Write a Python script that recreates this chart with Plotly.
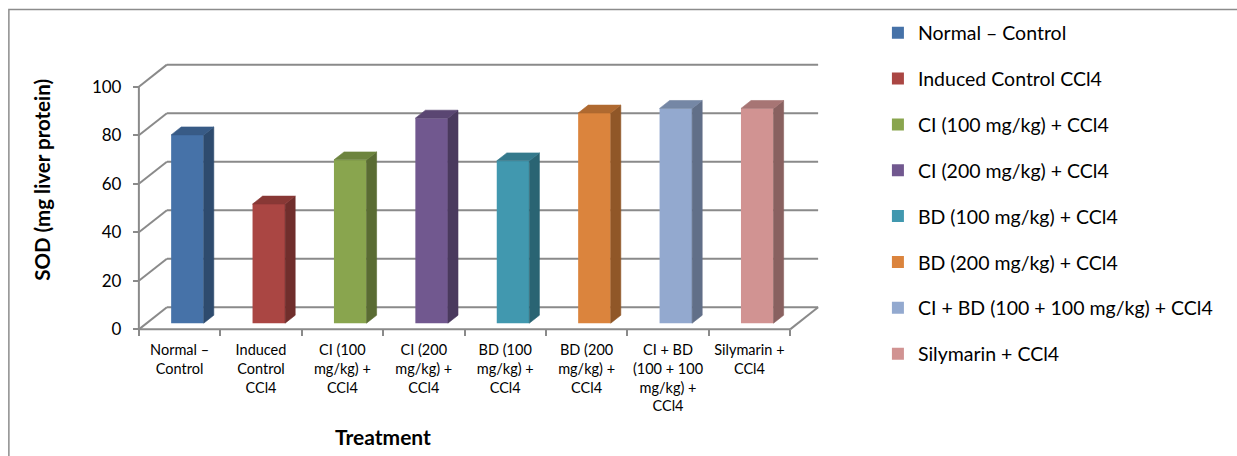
import plotly.graph_objects as go

# ---- data -------------------------------------------------------------
treatments = [
    "Normal – Control",
    "Induced Control CCl4",
    "CI (100 mg/kg) + CCl4",
    "CI (200 mg/kg) + CCl4",
    "BD (100 mg/kg) + CCl4",
    "BD (200 mg/kg) + CCl4",
    "CI + BD (100 + 100 mg/kg) + CCl4",
    "Silymarin + CCl4",
]
axis_labels = [
    "Normal –<br>Control",
    "Induced<br>Control<br>CCl4",
    "CI (100<br>mg/kg) +<br>CCl4",
    "CI (200<br>mg/kg) +<br>CCl4",
    "BD (100<br>mg/kg) +<br>CCl4",
    "BD (200<br>mg/kg) +<br>CCl4",
    "CI + BD<br>(100 + 100<br>mg/kg) +<br>CCl4",
    "Silymarin +<br>CCl4",
]
sod = [77.6, 49.1, 67.3, 84.5, 66.9, 86.6, 88.5, 88.5]
y_ticks = [0, 20, 40, 60, 80, 100]

front_colors = ["#4672A8", "#AA4643", "#89A54E", "#71588F",
                "#4198AF", "#DB843D", "#93A9CF", "#D19392"]

# ---- geometry of the pseudo-3D frame -----------------------------------
W, H = 1237, 456
PX0, PXC = 139.0, 81.4        # pixel of front-left corner, pixels per category
PY0, PYU = 329.0, 2.42        # pixel of front zero line, pixels per unit
DX = 28.0 / PXC               # depth offset (x, in category units)
DY = 22.0 / PYU               # depth offset (y, in value units)
BAR_W = 0.40                  # bar width in category units
T0, DEPTH = 0.28, 0.36        # bar position/depth as fractions of the floor depth
N = len(sod)

XMIN, XMAX = -0.06, N + DX + 0.06
YMIN, YMAX = -1.5, 100 + DY + 1.5

ml = PX0 + XMIN * PXC
pw = (XMAX - XMIN) * PXC
mr = W - ml - pw
bottom_px = PY0 - YMIN * PYU
ph = (YMAX - YMIN) * PYU
mb = H - bottom_px
mt = bottom_px - ph


def shade(hex_color, k):
    h = hex_color.lstrip("#")
    r, g, b = (int(h[i:i + 2], 16) for i in (0, 2, 4))
    return "#{:02X}{:02X}{:02X}".format(int(r * k), int(g * k), int(b * k))


def px_to_paper(px, py):
    return (px - ml) / pw, (bottom_px - py) / ph


GRID = "#8A8A8A"
FONT = "Lato"

fig = go.Figure()

# bars: front face as a Bar trace, side and top faces as filled polygons
for i, (name, v, col) in enumerate(zip(treatments, sod, front_colors)):
    cx = i + 0.5 + T0 * DX
    base = T0 * DY
    xl, xr = cx - BAR_W / 2, cx + BAR_W / 2
    ddx, ddy = DEPTH * DX, DEPTH * DY
    top = base + v
    side_col = shade(col, 0.66)
    top_col = shade(col, 0.80)
    fig.add_trace(go.Scatter(
        x=[xr, xr + ddx, xr + ddx, xr, xr],
        y=[base, base + ddy, top + ddy, top, base],
        fill="toself", fillcolor=side_col, mode="lines",
        line=dict(color=side_col, width=0.6),
        showlegend=False, hoverinfo="skip"))
    fig.add_trace(go.Scatter(
        x=[xl, xr, xr + ddx, xl + ddx, xl],
        y=[top, top, top + ddy, top + ddy, top],
        fill="toself", fillcolor=top_col, mode="lines",
        line=dict(color=top_col, width=0.6),
        showlegend=False, hoverinfo="skip"))
    fig.add_trace(go.Bar(
        x=[cx], y=[v], base=[base], width=[BAR_W],
        marker=dict(color=col, line=dict(width=0)),
        name=name, legendgroup=str(i), hoverinfo="skip"))

# invisible trace so the boundary-tick axis gets drawn
fig.add_trace(go.Scatter(x=[0], y=[0], xaxis="x2", mode="markers",
                         marker=dict(opacity=0), showlegend=False,
                         hoverinfo="skip"))

# walls, floor and gridlines
shapes = []
line = dict(color=GRID, width=2)
for v in y_ticks:
    shapes.append(dict(type="line", xref="x", yref="y", x0=DX, y0=v + DY,
                       x1=N + DX, y1=v + DY, line=line, layer="below"))
    shapes.append(dict(type="line", xref="x", yref="y", x0=0, y0=v,
                       x1=DX, y1=v + DY, line=line, layer="below"))
shapes.append(dict(type="line", xref="x", yref="y", x0=0, y0=0, x1=0,
                   y1=y_ticks[-1], line=line, layer="below"))
shapes.append(dict(type="line", xref="x", yref="y", x0=0, y0=0, x1=N,
                   y1=0, line=line, layer="below"))
shapes.append(dict(type="line", xref="x", yref="y", x0=N, y0=0, x1=N + DX,
                   y1=DY, line=line, layer="below"))

# outer chart border (left and top edges)
bx0, by0 = px_to_paper(9, 10)
bx1, by1 = px_to_paper(W + 5, H + 5)
shapes.append(dict(type="rect", xref="paper", yref="paper",
                   x0=bx0, y0=by1, x1=bx1, y1=by0,
                   line=dict(color="#8C8C8C", width=1.5), layer="below"))

x_axis_pos = (0 - YMIN) / (YMAX - YMIN)
y_axis_pos = (0 - XMIN) / (XMAX - XMIN)

lx, ly = px_to_paper(878, 14)
ytx, yty = px_to_paper(42, 180)
xtx, xty = px_to_paper(383, 436)

fig.update_layout(
    width=W, height=H,
    margin=dict(l=ml, r=mr, t=mt, b=mb, autoexpand=False),
    paper_bgcolor="white", plot_bgcolor="rgba(0,0,0,0)",
    barmode="overlay",
    font=dict(family=FONT, color="black"),
    shapes=shapes,
    showlegend=True,
    legend=dict(x=lx, y=ly, xanchor="left", yanchor="top",
                font=dict(family=FONT, size=19.5, color="black"),
                tracegroupgap=17.5, bgcolor="rgba(0,0,0,0)",
                maxheight=440),
    xaxis=dict(range=[XMIN, XMAX], anchor="free", position=x_axis_pos,
               tickmode="array", tickvals=[i + 0.5 for i in range(N)],
               ticktext=axis_labels, ticks="", showgrid=False,
               zeroline=False, showline=False, ticklabelstandoff=10,
               tickfont=dict(family=FONT, size=14.5, color="black")),
    xaxis2=dict(range=[XMIN, XMAX], overlaying="x", anchor="free",
                position=x_axis_pos, side="bottom",
                tickmode="array", tickvals=list(range(N + 1)),
                ticks="outside", ticklen=6, tickwidth=2, tickcolor=GRID,
                showticklabels=False, showgrid=False, zeroline=False,
                showline=False),
    yaxis=dict(range=[YMIN, YMAX], anchor="free", position=y_axis_pos,
               tickmode="array", tickvals=y_ticks,
               ticks="outside", ticklen=6, tickwidth=2, tickcolor=GRID,
               showgrid=False, zeroline=False, showline=False,
               ticklabelstandoff=8,
               tickfont=dict(family=FONT, size=17, color="black")),
    annotations=[
        dict(text="<b>SOD (mg liver protein)</b>", xref="paper",
             yref="paper", x=ytx, y=yty, textangle=-90, showarrow=False,
             xanchor="center", yanchor="middle",
             font=dict(family=FONT, size=20.5, color="black")),
        dict(text="<b>Treatment</b>", xref="paper", yref="paper",
             x=xtx, y=xty, showarrow=False, xanchor="center",
             yanchor="middle",
             font=dict(family=FONT, size=21, color="black")),
    ],
)

fig.write_html("out.html")
